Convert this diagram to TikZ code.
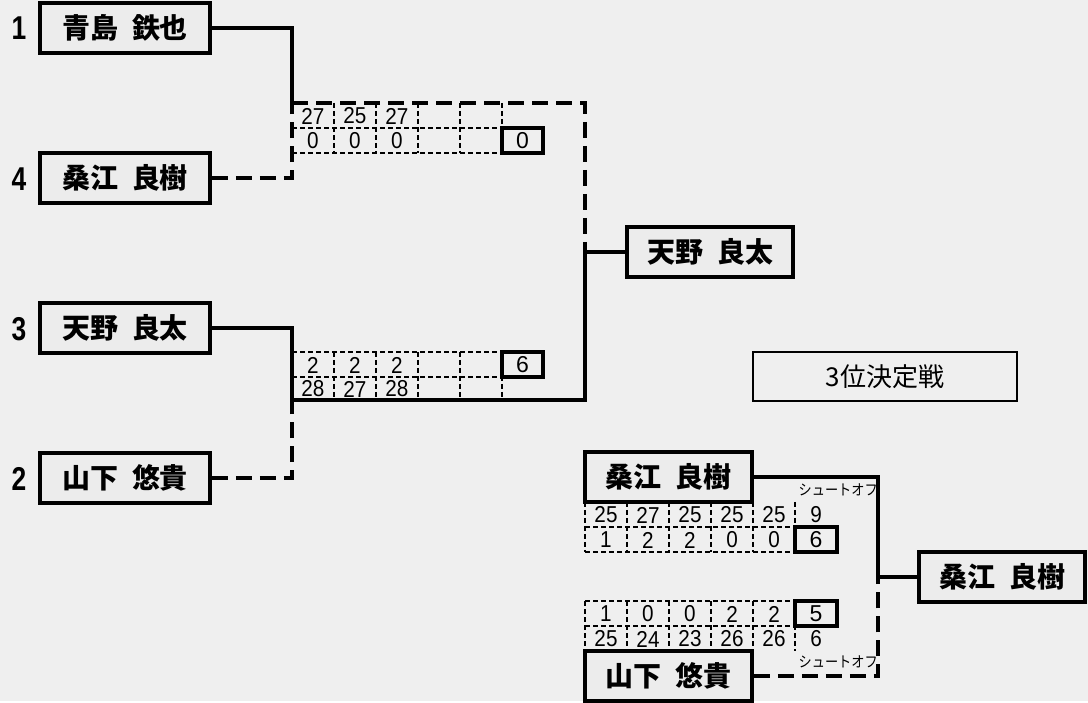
\documentclass[tikz,border=0pt]{standalone}
\usepackage{fontspec}
\newfontfamily\jp{Noto Sans CJK JP}
\newfontfamily\numf{Liberation Sans}
\definecolor{bg}{RGB}{239,239,239}
\definecolor{boxfill}{RGB}{236,236,236}
\begin{document}
\begin{tikzpicture}[x=1pt,y=-1pt,
  namebox/.style={draw, line width=3.5pt, fill=boxfill, minimum width=170pt, minimum height=50pt, inner sep=0pt, font=\jp\bfseries\fontsize{28}{28}\selectfont},
  seed/.style={inner sep=0pt, font=\numf\bfseries\fontsize{33}{33}\selectfont},
  sc/.style={inner sep=0pt, font=\numf\fontsize{23}{23}\selectfont},
  scorebox/.style={draw, line width=3.3pt, inner sep=0pt, minimum width=41pt, minimum height=25pt, font=\numf\fontsize{23}{23}\selectfont},
  win/.style={line width=3.3pt},
  lose/.style={line width=3.3pt, dash pattern=on 16pt off 8pt},
  grid/.style={line width=1.2pt, dash pattern=on 5pt off 3pt},
  note/.style={inner sep=0pt, font=\jp\fontsize{15}{15}\selectfont}
]
\fill[bg] (0,0) rectangle (1088,701);

% seeds and entrants
\node[seed] (s1) at (19,28) {\scalebox{0.8}[1]{1}};
\node[seed] (s4) at (19,179) {\scalebox{0.8}[1]{4}};
\node[seed] (s3) at (19,329) {\scalebox{0.8}[1]{3}};
\node[seed] (s2) at (19,479) {\scalebox{0.8}[1]{2}};
\node[namebox] (b1) at (125,28) {青島\hspace{0.5em}鉄也};
\node[namebox] (b4) at (125,178) {桑江\hspace{0.5em}良樹};
\node[namebox] (b3) at (125,328) {天野\hspace{0.5em}良太};
\node[namebox] (b2) at (125,478) {山下\hspace{0.5em}悠貴};
\node[namebox, minimum width=166pt] (w1) at (710,252) {天野\hspace{0.5em}良太};

% bracket coordinates
\coordinate (m1t) at (292,103);
\coordinate (m1r) at (585,103);
\coordinate (m2b) at (292,400);
\coordinate (m2r) at (585,400);
\coordinate (fj) at (585,252);

\draw[win] (b1.east) -| (m1t);
\draw[lose] (b4.east) -| (m1t);
\draw[lose] (m1t) -- (m1r) -- (fj);
\draw[win] (b3.east) -| (m2b);
\draw[lose] (b2.east) -| (m2b);
\draw[win] (m2b) -- (m2r) -- (fj) -- (w1.west);

% table 1 grid
\draw[grid] (292,128) -- (502,128);
\draw[grid] (292,153) -- (502,153);
\foreach \x in {334,376,418,460,502} \draw[grid] (\x,103) -- (\x,153);
\node[scorebox] (t1s) at (522.5,140.5) {0};
\foreach \v [count=\i] in {27,25,27} \node[sc] (t1a\i) at ({271+42*\i},116) {\scalebox{0.9}[1]{\v}};
\foreach \v [count=\i] in {0,0,0} \node[sc] (t1b\i) at ({271+42*\i},141) {\scalebox{0.9}[1]{\v}};

% table 2 grid
\draw[grid] (292,352) -- (502,352);
\draw[grid] (292,377) -- (502,377);
\foreach \x in {334,376,418,460,502} \draw[grid] (\x,352) -- (\x,400);
\node[scorebox] (t2s) at (522.5,364.5) {6};
\foreach \v [count=\i] in {2,2,2} \node[sc] (t2a\i) at ({271+42*\i},365) {\scalebox{0.9}[1]{\v}};
\foreach \v [count=\i] in {28,27,28} \node[sc] (t2b\i) at ({271+42*\i},389) {\scalebox{0.9}[1]{\v}};

% 3rd place
\node[draw, line width=1.5pt, minimum width=264pt, minimum height=49pt, inner sep=0pt, font=\jp\fontsize{26}{26}\selectfont] (third) at (885,376.5) {3位決定戦};

\node[namebox, minimum width=167pt] (bt) at (668.5,477) {桑江\hspace{0.5em}良樹};
\node[namebox, minimum width=167pt] (bb) at (668.5,676) {山下\hspace{0.5em}悠貴};
\node[namebox, minimum width=166pt] (bw) at (1002,577) {桑江\hspace{0.5em}良樹};
\coordinate (bj) at (878,577);
\draw[win] (bt.east) -| (bj) -- (bw.west);
\draw[lose] (bb.east) -| (bj);
\node[note, anchor=east] (so1) at (878,490) {\scalebox{0.88}[1]{シュートオフ}};
\node[note, anchor=east] (so2) at (878,662) {\scalebox{0.88}[1]{シュートオフ}};

% bronze table upper
\draw[grid] (585,502) -- (585,552);
\draw[grid] (585,527) -- (795,527);
\draw[grid] (585,552) -- (795,552);
\foreach \x in {627,669,711,753,795} \draw[grid] (\x,502) -- (\x,552);
\node[scorebox, minimum width=42pt] (u6) at (816,539.5) {6};
\foreach \v [count=\i] in {25,27,25,25,25,9} \node[sc] (ua\i) at ({564+42*\i},515) {\scalebox{0.9}[1]{\v}};
\foreach \v [count=\i] in {1,2,2,0,0} \node[sc] (ub\i) at ({564+42*\i},540) {\scalebox{0.9}[1]{\v}};

% bronze table lower
\draw[grid] (585,601) -- (585,651);
\draw[grid] (585,601) -- (795,601);
\draw[grid] (585,626) -- (795,626);
\foreach \x in {627,669,711,753,795} \draw[grid] (\x,601) -- (\x,651);
\node[scorebox, minimum width=42pt] (l5) at (816,613.5) {5};
\foreach \v [count=\i] in {1,0,0,2,2} \node[sc] (la\i) at ({564+42*\i},614) {\scalebox{0.9}[1]{\v}};
\foreach \v [count=\i] in {25,24,23,26,26,6} \node[sc] (lb\i) at ({564+42*\i},639) {\scalebox{0.9}[1]{\v}};
\end{tikzpicture}
\end{document}
